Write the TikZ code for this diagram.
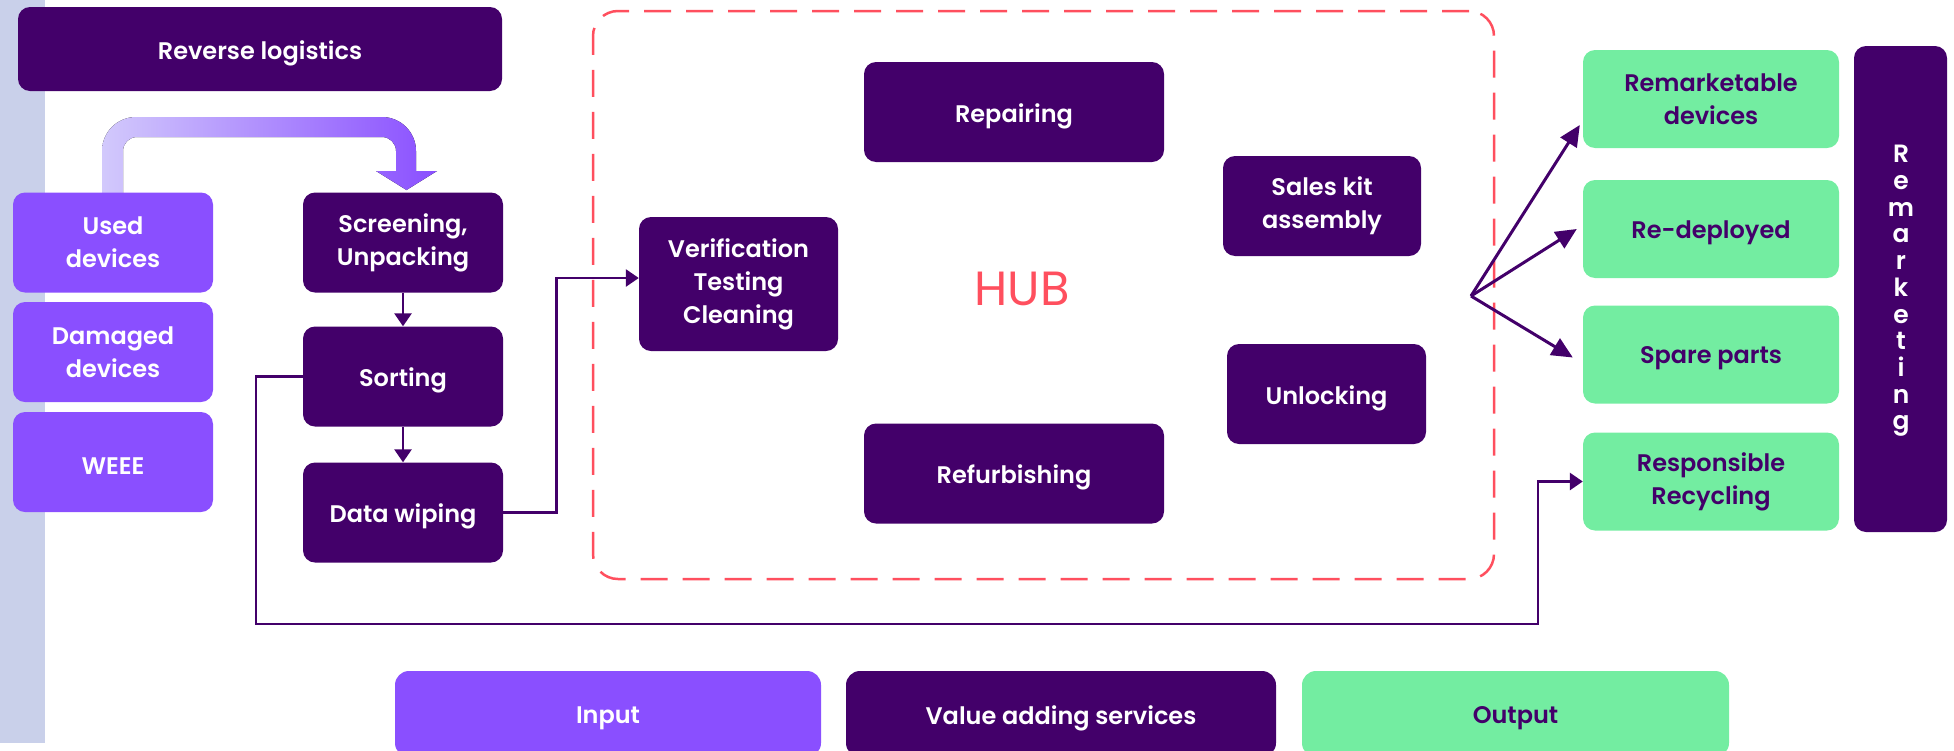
\documentclass[tikz,border=0pt]{standalone}
\usepackage{fontspec}
\setmainfont{Poppins}[UprightFont=* SemiBold]
\newfontfamily\hubfont{Poppins}
\usetikzlibrary{arrows.meta}
\definecolor{dp}{HTML}{43006A}
\definecolor{lp}{HTML}{8A4FFF}
\definecolor{gr}{HTML}{73EDA1}
\definecolor{hubred}{HTML}{FF4F5E}
\definecolor{stripc}{HTML}{C9D0EA}
\definecolor{bandl}{HTML}{D2C9FC}
\definecolor{bandm}{HTML}{9B6BFF}
\newcommand\oneline[1]{\raisebox{-4pt}[\height][\depth]{#1}}
\begin{document}
\begin{tikzpicture}[x=1pt,y=-1pt,
  box/.style={rounded corners=12pt, minimum width=200pt, minimum height=100pt, inner sep=0pt, align=center, font=\fontsize{24}{33}\selectfont},
  inbox/.style={box, fill=lp, text=white},
  vbox/.style={box, fill=dp, text=white},
  obox/.style={box, fill=gr, text=dp},
  conn/.style={draw=dp, line width=2.8pt, -{Triangle[width=17pt,length=13pt]}},
  fanarrow/.style={draw=dp, line width=3pt, -{Triangle[width=19pt,length=21pt]}}]
\useasboundingbox (0,0) rectangle (1954,750);
\clip (0,0) rectangle (1954,750);
% left strip
\fill[stripc] (0,0) rectangle (45,743);
% gradient band arrow
\fill[left color=bandl, middle color=bandm, right color=lp]
  (102,193) -- (102,151) arc[start angle=180, end angle=270, radius=34]
  -- (382,117) arc[start angle=270, end angle=360, radius=34]
  -- (416,171) -- (437,171) -- (406.5,190) -- (376,171) -- (396,171)
  -- (396,151) arc[start angle=0, end angle=-90, radius=14]
  -- (137,137) arc[start angle=270, end angle=180, radius=14]
  -- (123,193) -- cycle;
% hub frame
\node[draw=hubred, line width=2.5pt, dash pattern=on 27pt off 15pt, rounded corners=25pt,
      minimum width=901pt, minimum height=568pt, inner sep=0pt] (hub) at (1043.5,295) {};
\node[text=hubred, font=\hubfont\fontsize{48}{48}\selectfont] (hublabel) at (1022,289) {HUB};
% boxes
\node[vbox, minimum width=484pt, minimum height=84pt] (rl) at (260,49) {\oneline{Reverse logistics}};
\node[inbox] (used) at (113,242.5) {Used\\devices};
\node[inbox] (dam) at (113,352) {Damaged\\devices};
\node[inbox] (weee) at (113,462) {\oneline{WEEE}};
\node[vbox] (scr) at (403,242.5) {Screening,\\Unpacking};
\node[vbox] (sort) at (403,376.5) {\oneline{Sorting}};
\node[vbox] (wipe) at (403,512.5) {\oneline{Data wiping}};
\node[vbox, minimum width=199pt, minimum height=134pt] (ver) at (738.5,284) {Verification\\Testing\\Cleaning};
\node[vbox, minimum width=300pt] (rep) at (1014,112) {\oneline{Repairing}};
\node[vbox, minimum width=300pt] (ref) at (1014,473.5) {\oneline{Refurbishing}};
\node[vbox, minimum width=198pt] (sales) at (1322,206) {Sales kit\\assembly};
\node[vbox, minimum width=199pt] (unl) at (1326.5,394) {\oneline{Unlocking}};
\node[obox, minimum width=256pt, minimum height=98pt] (remk) at (1711,99) {Remarketable\\devices};
\node[obox, minimum width=256pt, minimum height=98pt] (redep) at (1711,229) {\oneline{Re-deployed}};
\node[obox, minimum width=256pt, minimum height=98pt] (spare) at (1711,354.5) {\oneline{Spare parts}};
\node[obox, minimum width=256pt, minimum height=98pt] (recyc) at (1711,481.5) {Responsible\\Recycling};
\node[vbox, minimum width=93pt, minimum height=486pt] (bar) at (1900.5,289) {};
\node[text=white, align=center, font=\fontsize{25}{26.7}\selectfont] (barlabel) at (1901,291)
  {R\\e\\m\\a\\r\\k\\e\\t\\i\\n\\g};
% legend
\node[inbox, minimum width=426pt, minimum height=86pt, rounded corners=14pt] (lin) at (608,714) {\oneline{Input}};
\node[vbox, minimum width=430pt, minimum height=86pt, rounded corners=14pt] (lval) at (1061,714) {\oneline{Value adding services}};
\node[obox, minimum width=427pt, minimum height=86pt, rounded corners=14pt] (lout) at (1515.5,714) {\oneline{Output}};
% connectors
\draw[conn] (scr) -- (sort);
\draw[conn] (sort) -- (wipe);
\draw[conn] (wipe.east) -- ++(53,0) |- ([yshift=6pt]ver.west);
\coordinate (c1) at (256,624);
\coordinate (c2) at (1538,624);
\draw[conn] (sort.west) -| (c1) -- (c2) |- (recyc.west);
\coordinate (fan) at (1471,296);
\draw[fanarrow] (fan) -- ([xshift=-3pt,yshift=-26pt]remk.west);
\draw[fanarrow] (fan) -- ([xshift=-6pt]redep.west);
\draw[fanarrow] (fan) -- ([xshift=-10pt,yshift=-3pt]spare.west);
\end{tikzpicture}
\end{document}
